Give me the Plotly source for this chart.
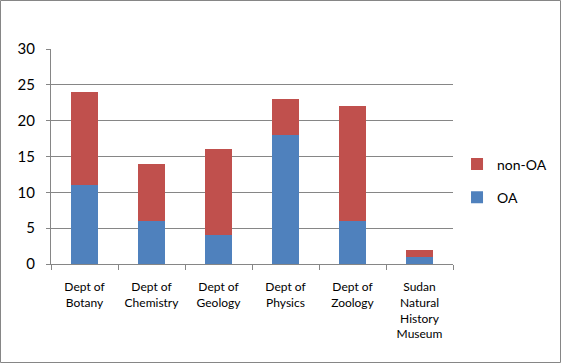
import plotly.graph_objects as go

categories = ["Dept of<br>Botany", "Dept of<br>Chemistry", "Dept of<br>Geology",
              "Dept of<br>Physics", "Dept of<br>Zoology",
              "Sudan<br>Natural<br>History<br>Museum"]
oa = [11, 6, 4, 18, 6, 1]
non_oa = [13, 8, 12, 5, 16, 1]
y_ticks = [0, 5, 10, 15, 20, 25, 30]

fig = go.Figure()
fig.add_trace(go.Bar(x=categories, y=oa, name="OA", marker_color="#4F81BD",
                     marker_line_width=0, legendgroup="a", legendrank=2))
fig.add_trace(go.Bar(x=categories, y=non_oa, name="non-OA", marker_color="#C0504D",
                     marker_line_width=0, legendgroup="b", legendrank=1))

W, H = 561, 363
L, R, T, B = 51, 108, 49, 99
pw, ph = W - L - R, H - T - B

fig.update_layout(
    width=W, height=H,
    barmode="stack", bargap=0.6,
    margin=dict(l=L, r=R, t=T, b=B, autoexpand=False),
    paper_bgcolor="white", plot_bgcolor="white",
    font=dict(family="Lato, Open Sans, sans-serif", color="black"),
    legend=dict(x=1.01, y=0.386, xanchor="left", yanchor="middle",
                traceorder="grouped", font=dict(size=14),
                itemwidth=30, tracegroupgap=12, bgcolor="rgba(0,0,0,0)"),
    xaxis=dict(showline=True, linecolor="#868686", linewidth=1, automargin=False,
               ticks="outside", tickson="boundaries", ticklen=5, tickcolor="#868686",
               tickfont=dict(size=12), showgrid=False, ticklabelstandoff=12),
    yaxis=dict(range=[0, 30], tickvals=y_ticks, showline=True, linecolor="#868686",
               linewidth=1, ticks="outside", ticklen=4, tickcolor="#868686",
               automargin=False, ticklabelstandoff=8,
               gridcolor="#868686", gridwidth=1, tickfont=dict(size=15),
               zeroline=False),
    shapes=[dict(type="rect", xref="paper", yref="paper",
                 x0=(0.5 - L) / pw, x1=(W - 0.5 - L) / pw,
                 y0=-(H - 0.5 - T - ph) / ph, y1=1 + (T - 0.5) / ph,
                 line=dict(color="#868686", width=1), layer="below")],
)

fig.write_html("out.html", config={"displayModeBar": False},
               post_script="document.body.style.margin='0';document.body.style.overflow='hidden';")
